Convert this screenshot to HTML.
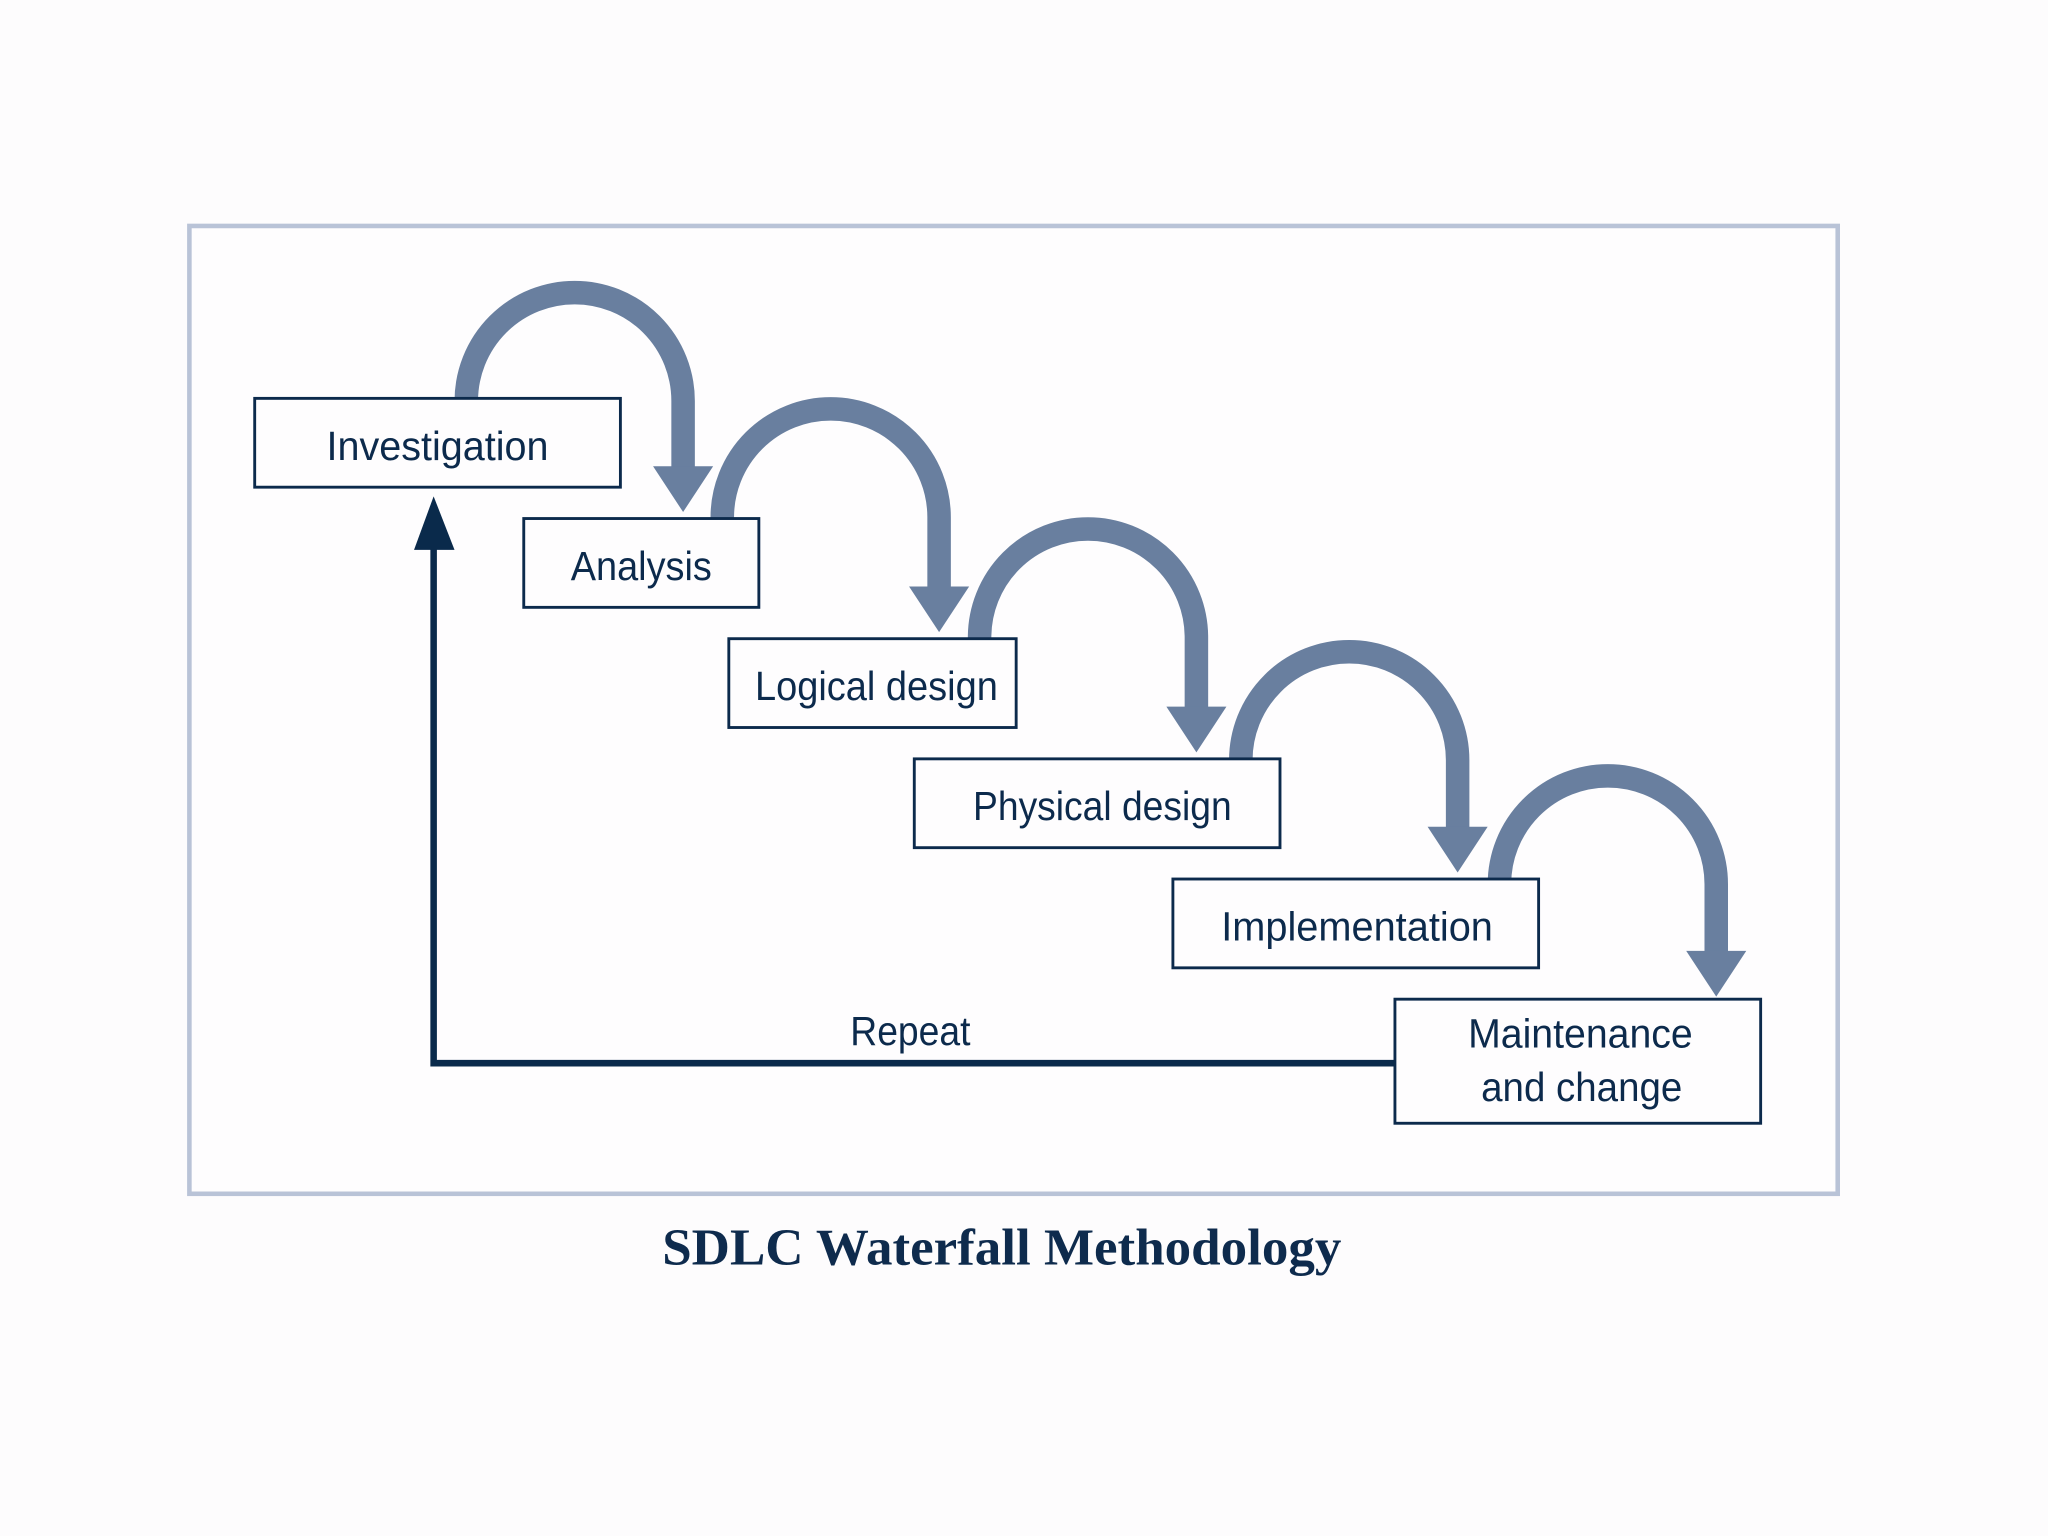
<!DOCTYPE html>
<html><head><meta charset="utf-8"><style>
html,body{margin:0;padding:0;background:#fdfcfd;}
svg{display:block;}
text{font-family:"Liberation Sans Narrow","Liberation Sans",sans-serif;fill:#0c2a4c;}
</style></head><body>
<svg width="2048" height="1536" viewBox="0 0 1568 1176" xmlns="http://www.w3.org/2000/svg">
<rect x="0" y="0" width="1568" height="1176" fill="#fdfcfd"/>
<rect x="145" y="173" width="1262" height="741" fill="#fefdfe" stroke="#b9c3d7" stroke-width="3.5"/>
<g fill="none" stroke="#697f9f" stroke-width="18">
<path d="M357,305 L357,307 A83,83 0 0 1 523,307 L523,360"/>
<path d="M553,397 L553,396 A83,83 0 0 1 719,396 L719,452"/>
<path d="M750,489 L750,488 A83,83 0 0 1 916,488 L916,544"/>
<path d="M950,581 L950,582 A83,83 0 0 1 1116,582 L1116,636"/>
<path d="M1148,673 L1148,677 A83,83 0 0 1 1314,677 L1314,731"/>
</g>
<g fill="#697f9f">
<polygon points="500,357 546,357 523,392"/>
<polygon points="696,449 742,449 719,484"/>
<polygon points="893,541 939,541 916,576"/>
<polygon points="1093,633 1139,633 1116,668"/>
<polygon points="1291,728 1337,728 1314,763"/>
</g>
<g fill="#fefdfe" stroke="#0c2a4c" stroke-width="2.2">
<rect x="195" y="305" width="280" height="68"/>
<rect x="401" y="397" width="180" height="68"/>
<rect x="558" y="489" width="220" height="68"/>
<rect x="700" y="581" width="280" height="68"/>
<rect x="898" y="673" width="280" height="68"/>
<rect x="1068" y="765" width="280" height="95"/>
</g>
<g font-size="31" text-anchor="middle">
<text x="335" y="352" textLength="170" lengthAdjust="spacingAndGlyphs">Investigation</text>
<text x="491" y="444" textLength="108" lengthAdjust="spacingAndGlyphs">Analysis</text>
<text x="671" y="536" textLength="186" lengthAdjust="spacingAndGlyphs">Logical design</text>
<text x="844" y="628" textLength="198" lengthAdjust="spacingAndGlyphs">Physical design</text>
<text x="1039" y="720" textLength="208" lengthAdjust="spacingAndGlyphs">Implementation</text>
<text x="1210" y="802" textLength="172" lengthAdjust="spacingAndGlyphs">Maintenance</text>
<text x="1211" y="843" textLength="154" lengthAdjust="spacingAndGlyphs">and change</text>
<text x="697" y="800" textLength="92" lengthAdjust="spacingAndGlyphs">Repeat</text>
</g>
<polyline points="1068,814 332,814 332,418" fill="none" stroke="#0a2a4b" stroke-width="5"/>
<polygon points="317,421 348,421 332,380" fill="#0a2a4b"/>
<text x="767" y="968" text-anchor="middle" font-size="40" font-weight="bold" textLength="520" lengthAdjust="spacingAndGlyphs" style="font-family:'Liberation Serif',serif;fill:#0e2b4d;">SDLC Waterfall Methodology</text>
</svg>
</body></html>
